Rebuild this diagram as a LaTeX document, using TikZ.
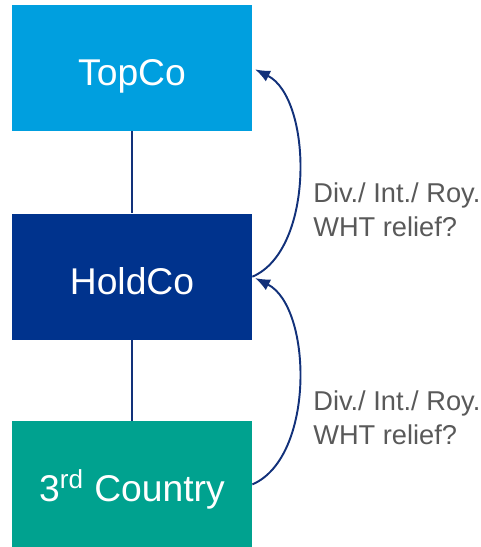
\documentclass[tikz,border=0pt]{standalone}
\usepackage{fontspec}
\setmainfont{Liberation Sans}
\usetikzlibrary{positioning,arrows.meta}
\definecolor{topblue}{HTML}{009FDF}
\definecolor{holdblue}{HTML}{00338D}
\definecolor{thirdgreen}{HTML}{00A28F}
\definecolor{arrowblue}{HTML}{12317A}
\definecolor{notegray}{HTML}{595959}
\tikzset{
	entity/.style={rectangle,minimum width=4.8cm,minimum height=2.52cm,text=white,
		font=\fontsize{21.2}{25}\selectfont,inner sep=0pt,text height=0.7cm,text depth=0cm},
	link/.style={draw=arrowblue,line width=0.85pt},
	flow/.style={draw=arrowblue,line width=1.1pt,-{Latex[length=0.3cm,width=0.24cm]},shorten >=0.06cm},
	note/.style={text=notegray,align=left,anchor=west,font=\fontsize{15.5}{19.3}\selectfont,inner sep=0pt}
}
\begin{document}
\begin{tikzpicture}
	\useasboundingbox (0,0) rectangle (9.62,-10.94);
	\node[entity,fill=topblue] (top) at (2.64,-1.36) {TopCo};
	\node[entity,fill=holdblue] (hold) [below=1.64cm of top] {HoldCo};
	\node[entity,fill=thirdgreen] (third) [below=1.62cm of hold] {3\textsuperscript{rd} Country};

	\node[note] (note1) at (6.26,-4.2) {Div./ Int./ Roy.\\WHT relief?};
	\node[note] (note2) at (6.26,-8.36) {Div./ Int./ Roy.\\WHT relief?};

	\draw[link] (top) -- (hold);
	\draw[link] (hold) -- (third);
	\draw[flow] (hold.east) .. controls +(1.26,0.54) and +(1.2,-0.6) .. (top.east);
	\draw[flow] (third.east) .. controls +(1.26,0.54) and +(1.2,-0.6) .. (hold.east);
\end{tikzpicture}
\end{document}
